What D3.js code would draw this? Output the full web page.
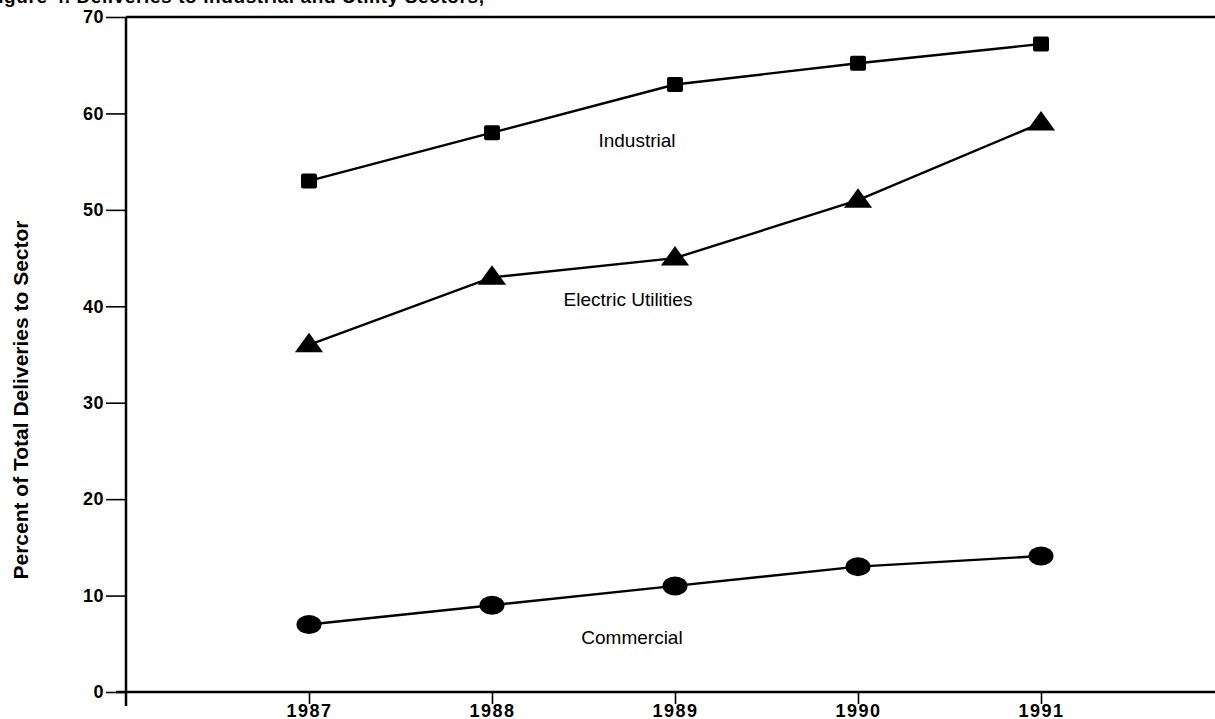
<!DOCTYPE html>
<html><head><meta charset="utf-8">
<script src="https://cdn.jsdelivr.net/npm/d3@7"></script>
<style>body{margin:0;background:#fff}svg{display:block}</style>
</head><body>
<svg id="c" width="1215" height="719"></svg>
<script>
const years = [1987, 1988, 1989, 1990, 1991];
const industrial = [53, 58, 63, 65.2, 67.2];
const electric = [36, 43, 45, 51, 59];
const commercial = [7, 9, 11, 13, 14.1];
const yTicks = [0, 10, 20, 30, 40, 50, 60, 70];
const seriesNames = ["Industrial", "Electric Utilities", "Commercial"];
const titleText = "Figure 4. Deliveries to Industrial and Utility Sectors,";
const yTitle = "Percent of Total Deliveries to Sector";

const svg = d3.select("#c");
const x = d3.scaleLinear().domain([1986, 1992]).range([126, 1224]);
const y = d3.scaleLinear().domain([0, 70]).range([692, 17]);

// clipped title at top
svg.append("text").attr("x", -14).attr("y", 3)
  .attr("font-family", "Liberation Sans, Arial, sans-serif").attr("font-weight", "bold")
  .attr("font-size", 19).attr("letter-spacing", "0.6px").attr("fill", "#000").text(titleText);

// top frame line
svg.append("line").attr("x1", 126).attr("x2", 1215).attr("y1", y(70)).attr("y2", y(70))
  .attr("stroke", "#000").attr("stroke-width", 2.5);

// y axis
const yAxis = d3.axisLeft(y).tickValues(yTicks).tickSize(20).tickPadding(2).tickFormat(d3.format("d"));
const gy = svg.append("g").attr("transform", "translate(126,0)").call(yAxis);
gy.select(".domain").attr("stroke", "#000").attr("stroke-width", 2.5).attr("d", "M0," + y(70) + "V" + (y(0) + 14));
gy.selectAll(".tick line").attr("stroke", "#000").attr("stroke-width", 1.6);
gy.selectAll(".tick text").attr("font-family", "Liberation Sans, Arial, sans-serif")
  .attr("font-weight", "bold").attr("font-size", 18).attr("letter-spacing", "0.5px").attr("fill", "#000");

// x axis
const xAxis = d3.axisBottom(x).tickValues(years).tickSize(12).tickPadding(0).tickFormat(d3.format("d"));
const gx = svg.append("g").attr("transform", "translate(0," + y(0) + ")").call(xAxis);
gx.select(".domain").attr("stroke", "#000").attr("stroke-width", 2.5).attr("d", "M116,0H1215");
gx.selectAll(".tick line").attr("stroke", "#000").attr("stroke-width", 1.6);
gx.selectAll(".tick text").attr("font-family", "Liberation Sans, Arial, sans-serif")
  .attr("font-weight", "bold").attr("font-size", 18).attr("letter-spacing", "1.5px").attr("fill", "#000");

// y title
svg.append("text").attr("transform", "translate(28,400) rotate(-90)")
  .attr("text-anchor", "middle")
  .attr("font-family", "Liberation Sans Narrow, Arial Narrow, Liberation Sans, sans-serif")
  .attr("font-weight", "bold").attr("font-size", 21).attr("fill", "#000").text(yTitle);

const line = d3.line().x((d, i) => x(years[i])).y(d => y(d));
const allSeries = [industrial, electric, commercial];
allSeries.forEach(s => {
  svg.append("path").attr("d", line(s)).attr("fill", "none").attr("stroke", "#000").attr("stroke-width", 2.4);
});

// markers
svg.selectAll(".sq").data(industrial).enter().append("rect")
  .attr("x", (d, i) => x(years[i]) - 8).attr("y", d => y(d) - 7.5)
  .attr("width", 16).attr("height", 15).attr("rx", 2).attr("fill", "#000");
const tri = d3.symbol().type(d3.symbolTriangle).size(220);
svg.selectAll(".tr").data(electric).enter().append("path")
  .attr("d", tri).attr("transform", (d, i) => "translate(" + x(years[i]) + "," + (y(d) + 1) + ") scale(1.25,1)")
  .attr("fill", "#000");
svg.selectAll(".ci").data(commercial).enter().append("ellipse")
  .attr("cx", (d, i) => x(years[i])).attr("cy", d => y(d))
  .attr("rx", 12.5).attr("ry", 9.5).attr("fill", "#000");

// series labels
const labelPos = [[637, 140, 0], [628, 299, 1], [632, 637, 2]];
labelPos.forEach(p => {
  svg.append("text").attr("x", p[0]).attr("y", p[1] + 7).attr("text-anchor", "middle")
    .attr("font-family", "Liberation Sans, Arial, sans-serif").attr("font-size", 19)
    .attr("fill", "#000").text(seriesNames[p[2]]);
});
</script>
</body></html>
